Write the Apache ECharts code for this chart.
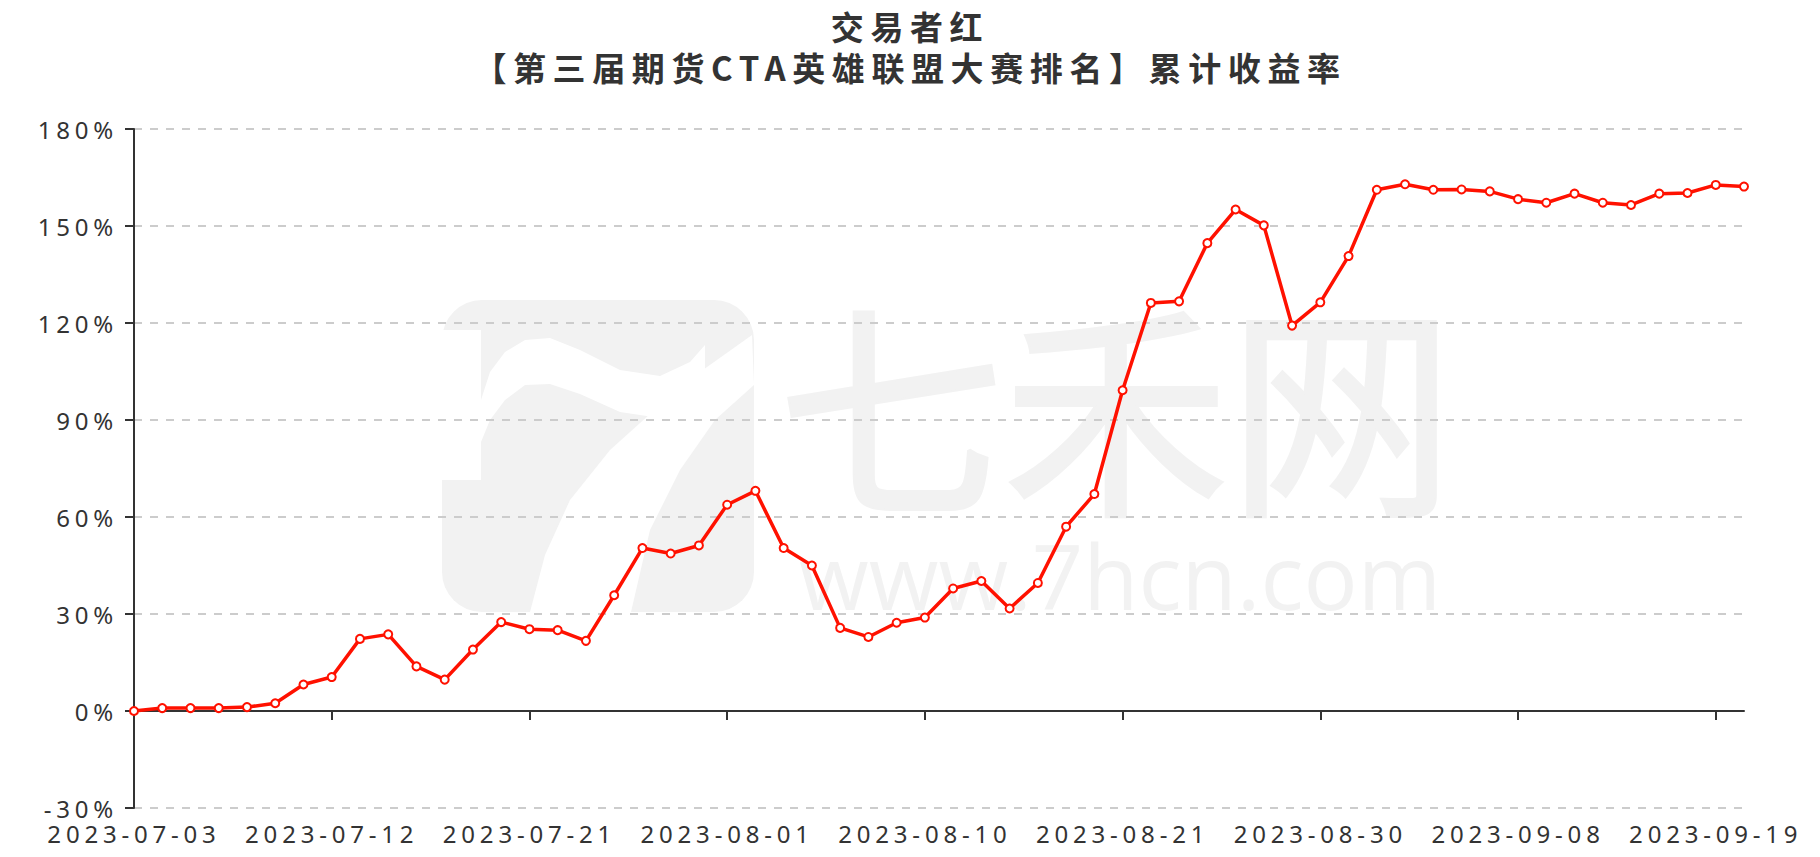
<!DOCTYPE html>
<html>
<head>
<meta charset="utf-8">
<script src="https://cdn.jsdelivr.net/npm/echarts@6.0.0/dist/echarts.min.js"></script>
<style>
html,body{margin:0;padding:0;background:#fff;}
#chart{width:1820px;height:857px;}
#chart text{letter-spacing:0.2em;}
#chart text[style*="CJK JP"], #chart text[style*="Open Sans"]{letter-spacing:0;}
</style>
</head>
<body>
<div id="chart"></div>
<script>
// ---- data ----
const titleLines = ['交易者红', '【第三届期货CTA英雄联盟大赛排名】累计收益率'];

const dates = [
  '2023-07-03','2023-07-04','2023-07-05','2023-07-06','2023-07-07',
  '2023-07-10','2023-07-11','2023-07-12','2023-07-13','2023-07-14',
  '2023-07-17','2023-07-18','2023-07-19','2023-07-20','2023-07-21',
  '2023-07-24','2023-07-25','2023-07-26','2023-07-27','2023-07-28',
  '2023-07-31','2023-08-01','2023-08-02','2023-08-03','2023-08-04',
  '2023-08-07','2023-08-08','2023-08-09','2023-08-10','2023-08-11',
  '2023-08-14','2023-08-15','2023-08-16','2023-08-17','2023-08-18',
  '2023-08-21','2023-08-22','2023-08-23','2023-08-24','2023-08-25',
  '2023-08-28','2023-08-29','2023-08-30','2023-08-31','2023-09-01',
  '2023-09-04','2023-09-05','2023-09-06','2023-09-07','2023-09-08',
  '2023-09-11','2023-09-12','2023-09-13','2023-09-14','2023-09-15',
  '2023-09-18','2023-09-19','2023-09-20'
];

// cumulative return, %
const returns = [
  0, 0.9, 0.9, 0.9, 1.2, 2.4, 8.2, 10.5, 22.3, 23.7,
  13.8, 9.7, 19.0, 27.5, 25.3, 25.0, 21.7, 35.8, 50.4, 48.7,
  51.2, 63.8, 68.1, 50.4, 45.0, 25.7, 22.9, 27.3, 28.9, 37.9,
  40.2, 31.7, 39.6, 57.0, 67.1, 99.2, 126.2, 126.7, 144.7, 155.1,
  150.2, 119.2, 126.4, 140.7, 161.2, 162.9, 161.2, 161.3, 160.7, 158.3,
  157.2, 160.0, 157.2, 156.5, 160.0, 160.2, 162.7, 162.2
];

const yMin = -30, yMax = 180, yStep = 30;
const labelEvery = 6;

const watermarkTitle = '七禾网';
const watermarkUrl = 'www.7hcn.com';

// ---- chart ----
const chart = echarts.init(document.getElementById('chart'), null, {renderer: 'svg'});
const wm = '#f2f2f2';

const swoosh = [[481,400],[490,372],[505,352],[525,340],[550,338],[580,350],[620,370],[660,376],[690,362],[705,345],
                [705,392],[690,405],[660,418],[620,412],[580,394],[550,384],[525,385],[505,400],[490,420],[481,442]];
const diag = [[530,612],[545,555],[570,500],[610,450],[660,405],[700,372],[752,335],[754,385],[715,420],[680,470],[650,530],[631,612]];

const option = {
  animation: false,
  backgroundColor: '#fff',
  title: {
    text: titleLines.join('\n'),
    left: 'center',
    top: 0,
    padding: [5, 5, 5, 67],
    textStyle: {
      fontSize: 33,
      fontWeight: 'bold',
      color: '#333',
      fontFamily: 'Noto Sans CJK SC',
      lineHeight: 41
    }
  },
  graphic: {
    elements: [
      {type: 'rect', z: -10, shape: {x: 442, y: 300, width: 312, height: 312, r: 40}, style: {fill: wm}},
      {type: 'rect', z: -9, shape: {x: 442, y: 330, width: 39, height: 150}, style: {fill: '#fff'}},
      {type: 'polygon', z: -9, shape: {points: swoosh}, style: {fill: '#fff'}},
      {type: 'polygon', z: -9, shape: {points: diag}, style: {fill: '#fff'}},
      {type: 'text', z: -8, style: {text: watermarkTitle, x: 1116, y: 400, textAlign: 'center', textVerticalAlign: 'middle', fontSize: 225, fontFamily: 'Noto Sans CJK JP', fill: wm, stroke: wm, lineWidth: 4}},
      {type: 'text', z: -8, style: {text: watermarkUrl, x: 1120, y: 575, textAlign: 'center', textVerticalAlign: 'middle', fontSize: 90, fontFamily: 'Open Sans', fill: wm}}
    ]
  },
  grid: {left: 134, right: 76, top: 129, bottom: 49},
  xAxis: [
    {
      type: 'category',
      data: dates,
      boundaryGap: false,
      position: 'bottom',
      axisLine: {onZero: true, lineStyle: {color: '#333', width: 2}},
      axisTick: {show: true, interval: labelEvery, length: 9, lineStyle: {color: '#333', width: 2}},
      axisLabel: {show: false},
      splitLine: {show: false}
    },
    {
      type: 'category',
      data: dates,
      boundaryGap: false,
      position: 'bottom',
      axisLine: {show: false, onZero: false},
      axisTick: {show: false},
      axisLabel: {interval: labelEvery, margin: 13, fontSize: 24, color: '#333', fontFamily: 'Noto Sans'},
      splitLine: {show: false}
    }
  ],
  yAxis: {
    type: 'value',
    min: yMin,
    max: yMax,
    interval: yStep,
    axisLine: {show: true, lineStyle: {color: '#333', width: 2}},
    axisTick: {show: true, length: 9, lineStyle: {color: '#333', width: 2}},
    axisLabel: {formatter: '{value}%', margin: 16, fontSize: 24, color: '#333', fontFamily: 'Noto Sans'},
    splitLine: {show: true, lineStyle: {type: [8, 8], color: '#ccc', width: 2}}
  },
  series: [{
    type: 'line',
    data: returns,
    xAxisIndex: 0,
    yAxisIndex: 0,
    symbol: 'circle',
    symbolSize: 8,
    showAllSymbol: true,
    z: 5,
    itemStyle: {color: '#fff', borderColor: '#ff1100', borderWidth: 2},
    lineStyle: {color: '#ff1100', width: 3.5}
  }]
};
chart.setOption(option);
</script>
</body>
</html>
